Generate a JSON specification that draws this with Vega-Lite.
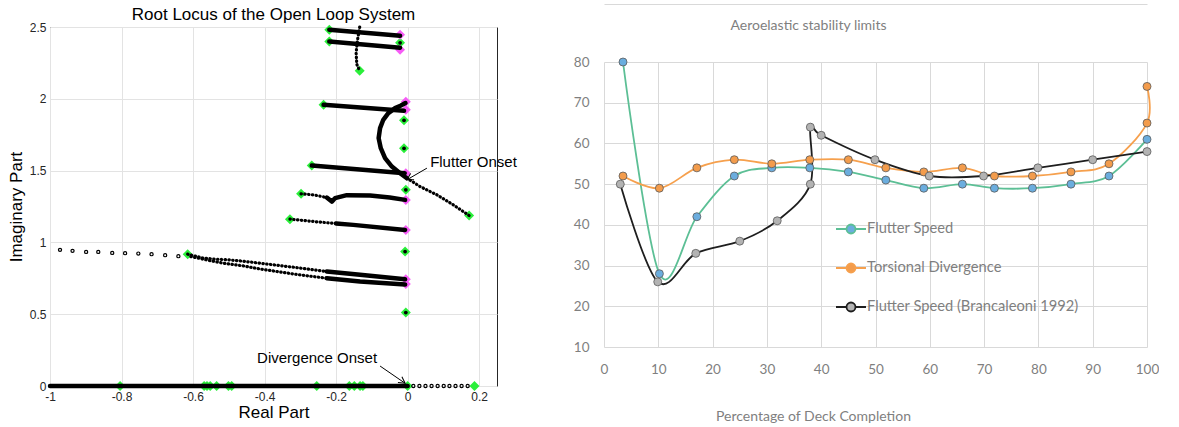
{
  "$schema": "https://vega.github.io/schema/vega-lite/v6.json",
  "background": "white",
  "padding": {"left": 6, "top": 4, "right": 0, "bottom": 0},
  "spacing": 55,
  "config": {"view": {"stroke": null}},
  "datasets": {
    "locus_dense": [
      {"b": "r0", "i": 0, "x": -1, "y": 0}, {"b": "r0", "i": 1, "x": 0, "y": 0},
      {"b": "t1", "i": 0, "x": -0.219, "y": 2.481}, {"b": "t1", "i": 1, "x": -0.021, "y": 2.439},
      {"b": "t2", "i": 0, "x": -0.219, "y": 2.399}, {"b": "t2", "i": 1, "x": -0.021, "y": 2.356},
      {"b": "m1", "i": 0, "x": -0.235, "y": 1.958}, {"b": "m1", "i": 1, "x": -0.01, "y": 1.916},
      {"b": "m2", "i": 0, "x": -0.006, "y": 1.97}, {"b": "m2", "i": 1, "x": -0.02, "y": 1.952},
      {"b": "m2", "i": 2, "x": -0.035, "y": 1.935}, {"b": "m2", "i": 3, "x": -0.054, "y": 1.9},
      {"b": "m2", "i": 4, "x": -0.068, "y": 1.854}, {"b": "m2", "i": 5, "x": -0.077, "y": 1.796},
      {"b": "m2", "i": 6, "x": -0.081, "y": 1.726}, {"b": "m2", "i": 7, "x": -0.075, "y": 1.656},
      {"b": "m2", "i": 8, "x": -0.063, "y": 1.587}, {"b": "m2", "i": 9, "x": -0.044, "y": 1.528},
      {"b": "m2", "i": 10, "x": -0.021, "y": 1.482}, {"b": "m2", "i": 11, "x": -0.002, "y": 1.447},
      {"b": "m3", "i": 0, "x": -0.268, "y": 1.535}, {"b": "m3", "i": 1, "x": -0.008, "y": 1.482},
      {"b": "m4", "i": 0, "x": -0.226, "y": 1.312}, {"b": "m4", "i": 1, "x": -0.212, "y": 1.284},
      {"b": "m4", "i": 2, "x": -0.203, "y": 1.308}, {"b": "m4", "i": 3, "x": -0.17, "y": 1.329},
      {"b": "m4", "i": 4, "x": -0.105, "y": 1.326}, {"b": "m4", "i": 5, "x": -0.05, "y": 1.312},
      {"b": "m4", "i": 6, "x": -0.007, "y": 1.296},
      {"b": "m5", "i": 0, "x": -0.2, "y": 1.132}, {"b": "m5", "i": 1, "x": -0.152, "y": 1.122},
      {"b": "m5", "i": 2, "x": -0.007, "y": 1.087},
      {"b": "l1", "i": 0, "x": -0.226, "y": 0.797}, {"b": "l1", "i": 1, "x": -0.133, "y": 0.774},
      {"b": "l1", "i": 2, "x": -0.007, "y": 0.743},
      {"b": "l2", "i": 0, "x": -0.226, "y": 0.75}, {"b": "l2", "i": 1, "x": -0.133, "y": 0.727},
      {"b": "l2", "i": 2, "x": -0.007, "y": 0.706}
    ],
    "locus_sparse": [
      {"b": "t3", "i": 0, "x": -0.134, "y": 2.5}, {"b": "t3", "i": 1, "x": -0.14, "y": 2.41},
      {"b": "t3", "i": 2, "x": -0.144, "y": 2.32}, {"b": "t3", "i": 3, "x": -0.142, "y": 2.24},
      {"b": "t3", "i": 4, "x": -0.134, "y": 2.195},
      {"b": "f1", "i": 0, "x": -0.002, "y": 1.447}, {"b": "f1", "i": 1, "x": 0.035, "y": 1.389},
      {"b": "f1", "i": 2, "x": 0.082, "y": 1.331}, {"b": "f1", "i": 3, "x": 0.128, "y": 1.261},
      {"b": "f1", "i": 4, "x": 0.172, "y": 1.187},
      {"b": "m4s", "i": 0, "x": -0.298, "y": 1.338}, {"b": "m4s", "i": 1, "x": -0.263, "y": 1.331},
      {"b": "m4s", "i": 2, "x": -0.226, "y": 1.312},
      {"b": "m5s", "i": 0, "x": -0.329, "y": 1.162}, {"b": "m5s", "i": 1, "x": -0.245, "y": 1.141},
      {"b": "m5s", "i": 2, "x": -0.2, "y": 1.132},
      {"b": "l1s", "i": 0, "x": -0.615, "y": 0.918}, {"b": "l1s", "i": 1, "x": -0.571, "y": 0.89},
      {"b": "l1s", "i": 2, "x": -0.534, "y": 0.883}, {"b": "l1s", "i": 3, "x": -0.499, "y": 0.878},
      {"b": "l1s", "i": 4, "x": -0.469, "y": 0.871}, {"b": "l1s", "i": 5, "x": -0.436, "y": 0.862},
      {"b": "l1s", "i": 6, "x": -0.413, "y": 0.855}, {"b": "l1s", "i": 7, "x": -0.319, "y": 0.827},
      {"b": "l1s", "i": 8, "x": -0.226, "y": 0.797},
      {"b": "l2s", "i": 0, "x": -0.606, "y": 0.901}, {"b": "l2s", "i": 1, "x": -0.552, "y": 0.873},
      {"b": "l2s", "i": 2, "x": -0.515, "y": 0.855}, {"b": "l2s", "i": 3, "x": -0.459, "y": 0.836},
      {"b": "l2s", "i": 4, "x": -0.413, "y": 0.815}, {"b": "l2s", "i": 5, "x": -0.319, "y": 0.78},
      {"b": "l2s", "i": 6, "x": -0.226, "y": 0.75}
    ],
    "locus_dots": [
      {"x": -0.972, "y": 0.948}, {"x": -0.937, "y": 0.941}, {"x": -0.899, "y": 0.934},
      {"x": -0.865, "y": 0.934}, {"x": -0.826, "y": 0.927}, {"x": -0.79, "y": 0.925},
      {"x": -0.753, "y": 0.922}, {"x": -0.716, "y": 0.918}, {"x": -0.678, "y": 0.911},
      {"x": -0.641, "y": 0.904},
      {"x": 0.016, "y": 0}, {"x": 0.033, "y": 0}, {"x": 0.05, "y": 0}, {"x": 0.067, "y": 0},
      {"x": 0.084, "y": 0}, {"x": 0.101, "y": 0}, {"x": 0.117, "y": 0}, {"x": 0.134, "y": 0},
      {"x": 0.151, "y": 0}, {"x": 0.168, "y": 0}
    ],
    "poles_green": [
      {"x": -0.219, "y": 2.481}, {"x": -0.219, "y": 2.399}, {"x": -0.134, "y": 2.195},
      {"x": -0.021, "y": 2.39}, {"x": -0.235, "y": 1.958}, {"x": -0.01, "y": 1.85},
      {"x": -0.01, "y": 1.655}, {"x": -0.268, "y": 1.535}, {"x": -0.005, "y": 1.366},
      {"x": -0.298, "y": 1.338}, {"x": -0.329, "y": 1.162}, {"x": 0.172, "y": 1.187},
      {"x": -0.007, "y": 0.936}, {"x": -0.615, "y": 0.918}, {"x": -0.005, "y": 0.511},
      {"x": -0.804, "y": 0}, {"x": -0.569, "y": 0}, {"x": -0.561, "y": 0}, {"x": -0.552, "y": 0},
      {"x": -0.534, "y": 0}, {"x": -0.501, "y": 0}, {"x": -0.492, "y": 0}, {"x": -0.254, "y": 0},
      {"x": -0.163, "y": 0}, {"x": -0.149, "y": 0}, {"x": -0.133, "y": 0}, {"x": -0.125, "y": 0},
      {"x": 0.0, "y": 0}, {"x": 0.187, "y": 0}
    ],
    "poles_magenta": [
      {"x": -0.021, "y": 2.446}, {"x": -0.021, "y": 2.342}, {"x": -0.005, "y": 1.98},
      {"x": -0.005, "y": 1.923}, {"x": -0.005, "y": 1.482}, {"x": -0.005, "y": 1.296},
      {"x": -0.005, "y": 1.087}, {"x": -0.005, "y": 0.743}, {"x": -0.005, "y": 0.71}
    ],
    "zeros_star": [
      {"x": -0.021, "y": 2.39}, {"x": -0.01, "y": 1.85}, {"x": -0.01, "y": 1.655},
      {"x": -0.005, "y": 1.366}, {"x": -0.007, "y": 0.936}, {"x": -0.005, "y": 0.511},
      {"x": 0, "y": 0}
    ],
    "notes": [
      {"label": "Flutter Onset", "x": 0.063, "y": 1.559},
      {"label": "Divergence Onset", "x": -0.421, "y": 0.193}
    ],
    "arrows": [
      {"name": "flutter", "x": 0.054, "y": 1.517, "x2": -0.002, "y2": 1.436},
      {"name": "divergence", "x": -0.077, "y": 0.139, "x2": -0.007, "y2": 0.019}
    ],
    "stability": [
      {"series": "Flutter Speed", "i": 0, "pct": 3.5, "speed": 80},
      {"series": "Flutter Speed", "i": 1, "pct": 10.2, "speed": 28},
      {"series": "Flutter Speed", "i": 2, "pct": 17.1, "speed": 42},
      {"series": "Flutter Speed", "i": 3, "pct": 24, "speed": 52},
      {"series": "Flutter Speed", "i": 4, "pct": 30.9, "speed": 54},
      {"series": "Flutter Speed", "i": 5, "pct": 37.9, "speed": 54},
      {"series": "Flutter Speed", "i": 6, "pct": 45, "speed": 53},
      {"series": "Flutter Speed", "i": 7, "pct": 51.9, "speed": 51},
      {"series": "Flutter Speed", "i": 8, "pct": 58.9, "speed": 49},
      {"series": "Flutter Speed", "i": 9, "pct": 66, "speed": 50},
      {"series": "Flutter Speed", "i": 10, "pct": 71.9, "speed": 49},
      {"series": "Flutter Speed", "i": 11, "pct": 78.9, "speed": 49},
      {"series": "Flutter Speed", "i": 12, "pct": 86, "speed": 50},
      {"series": "Flutter Speed", "i": 13, "pct": 93, "speed": 52},
      {"series": "Flutter Speed", "i": 14, "pct": 100, "speed": 61},
      {"series": "Torsional Divergence", "i": 0, "pct": 3.5, "speed": 52},
      {"series": "Torsional Divergence", "i": 1, "pct": 10.2, "speed": 49},
      {"series": "Torsional Divergence", "i": 2, "pct": 17.1, "speed": 54},
      {"series": "Torsional Divergence", "i": 3, "pct": 24, "speed": 56},
      {"series": "Torsional Divergence", "i": 4, "pct": 30.9, "speed": 55},
      {"series": "Torsional Divergence", "i": 5, "pct": 37.9, "speed": 56},
      {"series": "Torsional Divergence", "i": 6, "pct": 45, "speed": 56},
      {"series": "Torsional Divergence", "i": 7, "pct": 51.9, "speed": 54},
      {"series": "Torsional Divergence", "i": 8, "pct": 58.9, "speed": 53},
      {"series": "Torsional Divergence", "i": 9, "pct": 66, "speed": 54},
      {"series": "Torsional Divergence", "i": 10, "pct": 71.9, "speed": 52},
      {"series": "Torsional Divergence", "i": 11, "pct": 78.9, "speed": 52},
      {"series": "Torsional Divergence", "i": 12, "pct": 86, "speed": 53},
      {"series": "Torsional Divergence", "i": 13, "pct": 93, "speed": 55},
      {"series": "Torsional Divergence", "i": 14, "pct": 100, "speed": 65},
      {"series": "Torsional Divergence", "i": 15, "pct": 100, "speed": 74},
      {"series": "Flutter Speed (Brancaleoni 1992)", "i": 0, "pct": 3, "speed": 50},
      {"series": "Flutter Speed (Brancaleoni 1992)", "i": 1, "pct": 9.9, "speed": 26},
      {"series": "Flutter Speed (Brancaleoni 1992)", "i": 2, "pct": 16.9, "speed": 33},
      {"series": "Flutter Speed (Brancaleoni 1992)", "i": 3, "pct": 25, "speed": 36},
      {"series": "Flutter Speed (Brancaleoni 1992)", "i": 4, "pct": 31.9, "speed": 41},
      {"series": "Flutter Speed (Brancaleoni 1992)", "i": 5, "pct": 38, "speed": 50},
      {"series": "Flutter Speed (Brancaleoni 1992)", "i": 6, "pct": 38, "speed": 64},
      {"series": "Flutter Speed (Brancaleoni 1992)", "i": 7, "pct": 40, "speed": 62},
      {"series": "Flutter Speed (Brancaleoni 1992)", "i": 8, "pct": 49.9, "speed": 56},
      {"series": "Flutter Speed (Brancaleoni 1992)", "i": 9, "pct": 59.9, "speed": 52},
      {"series": "Flutter Speed (Brancaleoni 1992)", "i": 10, "pct": 69.9, "speed": 52},
      {"series": "Flutter Speed (Brancaleoni 1992)", "i": 11, "pct": 79.9, "speed": 54},
      {"series": "Flutter Speed (Brancaleoni 1992)", "i": 12, "pct": 90, "speed": 56},
      {"series": "Flutter Speed (Brancaleoni 1992)", "i": 13, "pct": 100, "speed": 58}
    ]
  },
  "hconcat": [
    {
      "width": 447,
      "height": 359,
      "title": {"text": "Root Locus of the Open Loop System", "font": "Liberation Sans", "fontSize": 17, "fontWeight": "normal", "color": "#000000", "offset": -3, "anchor": "middle"},
      "view": {"stroke": "#262626", "strokeWidth": 1},
      "layer": [
        {
          "data": {"name": "poles_green"},
          "mark": {"type": "point", "shape": "diamond", "filled": true, "size": 100, "color": "#2aef3a", "opacity": 1},
          "encoding": {
            "x": {"field": "x", "type": "quantitative", "scale": {"domain": [-1, 0.25], "nice": false, "zero": false},
              "axis": {"title": "Real Part", "values": [-1, -0.8, -0.6, -0.4, -0.2, 0, 0.2], "labelExpr": "'' + datum.value", "labelFlush": false, "grid": true, "gridColor": "#e3e3e3", "domain": false, "ticks": false, "labelFont": "Liberation Sans", "labelFontSize": 12, "labelColor": "#262626", "labelPadding": 5, "titleFont": "Liberation Sans", "titleFontSize": 17, "titleFontWeight": "normal", "titleColor": "#000000", "titlePadding": 2}},
            "y": {"field": "y", "type": "quantitative", "scale": {"domain": [0, 2.5], "nice": false, "zero": false},
              "axis": {"title": "Imaginary Part", "values": [0, 0.5, 1, 1.5, 2, 2.5], "labelExpr": "'' + datum.value", "grid": true, "gridColor": "#e3e3e3", "domain": false, "ticks": false, "labelFont": "Liberation Sans", "labelFontSize": 12, "labelColor": "#262626", "labelPadding": 4, "titleFont": "Liberation Sans", "titleFontSize": 17, "titleFontWeight": "normal", "titleColor": "#000000", "titlePadding": 4}}
          }
        },
        {
          "data": {"name": "poles_magenta"},
          "mark": {"type": "point", "shape": "diamond", "filled": true, "size": 100, "color": "#f65cf6", "opacity": 1},
          "encoding": {
            "x": {"field": "x", "type": "quantitative"},
            "y": {"field": "y", "type": "quantitative"}
          }
        },
        {
          "data": {"name": "locus_dense"},
          "mark": {"type": "line", "color": "#000000", "strokeWidth": 4.5, "strokeCap": "round", "strokeJoin": "round"},
          "encoding": {
            "x": {"field": "x", "type": "quantitative"},
            "y": {"field": "y", "type": "quantitative"},
            "detail": {"field": "b", "type": "nominal"},
            "order": {"field": "i", "type": "quantitative"}
          }
        },
        {
          "data": {"name": "locus_sparse"},
          "mark": {"type": "line", "color": "#000000", "strokeWidth": 3.2, "strokeCap": "round", "strokeDash": [0.4, 3.4]},
          "encoding": {
            "x": {"field": "x", "type": "quantitative"},
            "y": {"field": "y", "type": "quantitative"},
            "detail": {"field": "b", "type": "nominal"},
            "order": {"field": "i", "type": "quantitative"}
          }
        },
        {
          "data": {"name": "locus_dots"},
          "mark": {"type": "point", "shape": "circle", "filled": false, "size": 10, "color": "#000000", "strokeWidth": 1.2, "opacity": 1},
          "encoding": {
            "x": {"field": "x", "type": "quantitative"},
            "y": {"field": "y", "type": "quantitative"}
          }
        },
        {
          "data": {"name": "zeros_star"},
          "mark": {"type": "point", "shape": "circle", "filled": true, "size": 14, "color": "#000000", "opacity": 1},
          "encoding": {
            "x": {"field": "x", "type": "quantitative"},
            "y": {"field": "y", "type": "quantitative"}
          }
        },
        {
          "data": {"name": "arrows"},
          "mark": {"type": "rule", "color": "#000000", "strokeWidth": 1},
          "encoding": {
            "x": {"field": "x", "type": "quantitative"},
            "y": {"field": "y", "type": "quantitative"},
            "x2": {"field": "x2"},
            "y2": {"field": "y2"}
          }
        },
        {
          "data": {"name": "arrows"},
          "transform": [{"filter": "datum.name === 'flutter'"}],
          "mark": {"type": "point", "shape": "M-1,-0.55L0,0L-1,0.55", "size": 160, "angle": 150, "filled": false, "color": "#000000", "strokeWidth": 1, "opacity": 1},
          "encoding": {
            "x": {"field": "x2", "type": "quantitative"},
            "y": {"field": "y2", "type": "quantitative"}
          }
        },
        {
          "data": {"name": "arrows"},
          "transform": [{"filter": "datum.name === 'divergence'"}],
          "mark": {"type": "point", "shape": "M-1,-0.55L0,0L-1,0.55", "size": 160, "angle": 35, "filled": false, "color": "#000000", "strokeWidth": 1, "opacity": 1},
          "encoding": {
            "x": {"field": "x2", "type": "quantitative"},
            "y": {"field": "y2", "type": "quantitative"}
          }
        },
        {
          "data": {"name": "notes"},
          "mark": {"type": "text", "align": "left", "baseline": "middle", "font": "Liberation Sans", "fontSize": 15, "color": "#000000"},
          "encoding": {
            "x": {"field": "x", "type": "quantitative"},
            "y": {"field": "y", "type": "quantitative"},
            "text": {"field": "label"}
          }
        }
      ]
    },
    {
      "spacing": 0,
      "vconcat": [
        {
          "width": 543,
          "height": 28,
          "view": {"stroke": null},
          "data": {"values": []},
          "mark": {"type": "point", "opacity": 0},
          "encoding": {
            "x": {"field": "pct", "type": "quantitative", "scale": {"domain": [0, 100], "nice": false, "zero": false},
              "axis": {"orient": "top", "labels": false, "ticks": false, "grid": false, "domain": true, "domainColor": "#d9d9d9", "domainWidth": 1, "offset": 23, "title": "Aeroelastic stability limits", "titleFont": "Lato", "titleFontSize": 14, "titleFontWeight": "normal", "titleColor": "#7f7f7f", "titleX": 204, "titleY": 21, "titleAlign": "center", "titleBaseline": "middle"}}
          }
        },
        {
          "width": 543,
          "height": 285,
          "view": {"stroke": null},
          "layer": [
            {
              "data": {"name": "stability"},
              "mark": {"type": "line", "interpolate": "cardinal", "strokeWidth": 1.8},
              "encoding": {
                "x": {"field": "pct", "type": "quantitative", "scale": {"domain": [0, 100], "nice": false, "zero": false},
                  "axis": {"title": "Percentage of Deck Completion", "values": [0, 10, 20, 30, 40, 50, 60, 70, 80, 90, 100], "labelFlush": false, "grid": true, "gridColor": "#d9d9d9", "domain": false, "ticks": false, "labelFont": "Lato", "labelFontSize": 13.5, "labelColor": "#7f7f7f", "labelPadding": 15, "titleFont": "Lato", "titleFontSize": 14, "titleFontWeight": "normal", "titleColor": "#7f7f7f", "titleX": 209, "titleY": 69, "titleAlign": "center", "titleBaseline": "middle"}},
                "y": {"field": "speed", "type": "quantitative", "scale": {"domain": [10, 80], "nice": false, "zero": false},
                  "axis": {"title": null, "values": [10, 20, 30, 40, 50, 60, 70, 80], "grid": true, "gridColor": "#d9d9d9", "domain": false, "ticks": false, "labelFont": "Lato", "labelFontSize": 13.5, "labelColor": "#7f7f7f", "labelPadding": 15}},
                "stroke": {"field": "series", "type": "nominal",
                  "scale": {"domain": ["Flutter Speed", "Torsional Divergence", "Flutter Speed (Brancaleoni 1992)"], "range": ["#5cbf95", "#f6a04d", "#1e1e1e"]},
                  "legend": {"title": null, "orient": "none", "legendX": 785, "legendY": 186, "padding": 0, "symbolType": "M-1,0L-0.3,0M0.3,0L1,0M0.3,0A0.3,0.3,0,1,1,-0.3,0A0.3,0.3,0,1,1,0.3,0", "symbolSize": 900, "symbolStrokeWidth": 1.8, "labelFont": "Lato", "labelFontSize": 14.7, "labelColor": "#7f7f7f", "labelOffset": 0, "labelLimit": 400, "rowPadding": 14}},
                "order": {"field": "i", "type": "quantitative"}
              }
            },
            {
              "data": {"name": "stability"},
              "mark": {"type": "point", "shape": "circle", "filled": true, "size": 64, "stroke": "#5a5a5a", "strokeWidth": 0.8, "opacity": 1},
              "encoding": {
                "x": {"field": "pct", "type": "quantitative"},
                "y": {"field": "speed", "type": "quantitative"},
                "fill": {"field": "series", "type": "nominal",
                  "scale": {"domain": ["Flutter Speed", "Torsional Divergence", "Flutter Speed (Brancaleoni 1992)"], "range": ["#6badde", "#f39c4c", "#b3b3b3"]},
                  "legend": {"title": null, "orient": "none", "legendX": 785, "legendY": 186, "padding": 0, "symbolType": "M-1,0L-0.3,0M0.3,0L1,0M0.3,0A0.3,0.3,0,1,1,-0.3,0A0.3,0.3,0,1,1,0.3,0", "symbolSize": 900, "symbolStrokeWidth": 1.8, "labelFont": "Lato", "labelFontSize": 14.7, "labelColor": "#7f7f7f", "labelOffset": 0, "labelLimit": 400, "rowPadding": 14}}
              }
            }
          ]
        }
      ]
    }
  ]
}
